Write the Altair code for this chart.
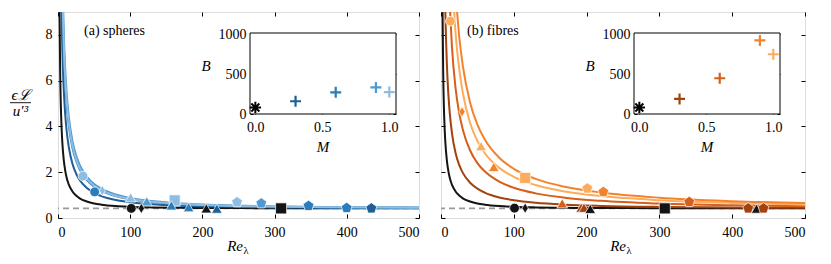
import altair as alt
import pandas as pd

FONT = "'Liberation Serif', 'Times New Roman', serif"
GROUPS = ["0", "0.3", "0.6", "0.9", "1.0"]
PAL_S = ["#141414", "#1f5f96", "#2a7cba", "#4f9bd1", "#8fbde1"]
PAL_F = ["#141414", "#a2420f", "#d65f19", "#f4822a", "#fdac5c"]
SHAPE_KEYS = ["A", "B", "C", "D", "E"]
SHAPES = ["circle", "M0,-1L0.62,0L0,1L-0.62,0Z", "triangle-up", "square",
          "M0,-1L0.951,-0.309L0.588,0.809L-0.588,0.809L-0.951,-0.309Z"]
SHAPE_SIZES = [95, 130, 95, 85, 110]

C_INF = 0.42

# ---- curves (Re_lambda, eps L / u'^3) ----
K0_RE = [2, 3, 4, 5, 6, 8, 10, 12, 15, 20, 25, 30, 40, 50, 60, 80, 100, 130, 170, 220, 300, 400, 500]
K0_C = [9.45, 6.37, 4.83, 3.91, 3.30, 2.53, 2.07, 1.76, 1.46, 1.16, 0.98, 0.86, 0.72, 0.635, 0.583,
        0.522, 0.49, 0.464, 0.446, 0.436, 0.429, 0.425, 0.423]

S03_RE = [4, 5, 6, 8, 10, 12, 15, 20, 25, 30, 40, 50, 60, 80, 100, 130, 170, 220, 300, 400, 500]
S03_C = [10.97, 8.82, 7.39, 5.59, 4.52, 3.80, 3.09, 2.37, 1.945, 1.66, 1.307, 1.096, 0.958, 0.788,
         0.689, 0.602, 0.539, 0.497, 0.464, 0.446, 0.437]
S06_RE = [6, 8, 10, 12, 15, 20, 25, 30, 40, 50, 60, 80, 100, 130, 170, 220, 300, 400, 500]
S06_C = [9.73, 7.35, 5.93, 4.97, 4.02, 3.07, 2.51, 2.13, 1.65, 1.37, 1.185, 0.954, 0.819, 0.697,
         0.606, 0.544, 0.4935, 0.464, 0.449]
S09_RE = [6, 8, 10, 12, 15, 20, 25, 30, 40, 50, 60, 80, 100, 130, 170, 220, 300, 400, 500]
S09_C = [10.71, 8.09, 6.51, 5.46, 4.42, 3.37, 2.74, 2.32, 1.80, 1.487, 1.28, 1.025, 0.874, 0.738,
         0.636, 0.565, 0.507, 0.4725, 0.455]
S10_RE = [6, 8, 10, 12, 15, 20, 25, 30, 40, 50, 60, 80, 100, 130, 170, 220, 300, 400, 500]
S10_C = [10.01, 7.56, 6.09, 5.11, 4.13, 3.16, 2.57, 2.18, 1.695, 1.405, 1.21, 0.974, 0.834, 0.709,
         0.615, 0.55, 0.497, 0.466, 0.451]

F03_RE = [5, 6, 8, 10, 12, 15, 20, 25, 30, 40, 50, 60, 80, 100, 130, 170, 220, 300, 400, 500]
F03_C = [10.71, 8.96, 6.78, 5.46, 4.59, 3.72, 2.84, 2.32, 1.97, 1.54, 1.28, 1.11, 0.899, 0.776,
         0.665, 0.583, 0.528, 0.483, 0.458, 0.445]
F06_RE = [12, 15, 20, 25, 30, 40, 50, 60, 80, 100, 130, 170, 220, 300, 400, 500]
F06_C = [9.31, 7.49, 5.67, 4.58, 3.86, 2.95, 2.40, 2.04, 1.59, 1.32, 1.076, 0.886, 0.749, 0.63,
         0.554, 0.513]
F09_RE = [20, 25, 30, 40, 50, 60, 80, 100, 130, 170, 220, 300, 400, 500]
F09_C = [9.87, 7.94, 6.65, 5.04, 4.08, 3.44, 2.63, 2.15, 1.71, 1.365, 1.113, 0.887, 0.737, 0.65]
F10_RE = [15, 20, 25, 30, 40, 50, 60, 80, 100, 130, 170, 220, 300, 400, 500]
F10_C = [10.71, 8.09, 6.51, 5.46, 4.15, 3.37, 2.84, 2.19, 1.80, 1.44, 1.16, 0.956, 0.776, 0.656, 0.589]

# ---- simulation markers ----
SM_RE = [34.6, 50.8, 61.4, 100.6, 123, 161.6, 157, 181, 205.4, 220, 248, 281.6, 309, 347, 399.8,
         434, 101.5, 115.4]
SM_C = [1.83, 1.14, 1.2, 0.9, 0.73, 0.77, 0.55, 0.47, 0.42, 0.41, 0.69, 0.64, 0.42, 0.53, 0.44,
        0.42, 0.42, 0.42]
SM_G = ["1.0", "0.6", "1.0", "1.0", "0.9", "1.0", "0.6", "0.6", "0", "0.3", "1.0", "0.9", "0",
        "0.6", "0.6", "0.3", "0", "0"]
SM_S = ["A", "A", "B", "C", "C", "D", "C", "C", "C", "C", "E", "E", "D", "E", "E", "E", "A", "B"]

FM_RE = [12.9, 28.9, 55, 72.5, 115.6, 201, 223, 166.5, 192.6, 196.4, 205, 101, 115.6, 307.4, 341,
         422, 433.5, 443]
FM_C = [8.6, 4.64, 3.14, 2.23, 1.75, 1.29, 1.14, 0.64, 0.45, 0.45, 0.4, 0.43, 0.43, 0.42, 0.7,
        0.42, 0.41, 0.42]
FM_G = ["1.0", "0.9", "1.0", "0.9", "1.0", "1.0", "0.9", "0.6", "0.3", "0.3", "0", "0", "0", "0",
        "0.6", "0.3", "0", "0.3"]
FM_S = ["A", "B", "C", "C", "D", "E", "E", "C", "C", "C", "C", "A", "B", "D", "E", "E", "C", "E"]

# ---- inset: B against M ----
S_M = [0.3, 0.6, 0.9, 1.0]
S_B = [160, 272, 333, 275]
S_MG = ["0.3", "0.6", "0.9", "1.0"]
F_M = [0.3, 0.6, 0.9, 1.0]
F_B = [189, 448, 922, 749]
F_MG = ["0.3", "0.6", "0.9", "1.0"]
STAR_M = [0.0]
STAR_B = [82]

INSET_XDOM = [-0.04, 1.05]
INSET_YDOM = [0, 1015]

H = 206


def curves_frame(items):
    rows = []
    for name, g, res, cs in items:
        for r, c in zip(res, cs):
            rows.append({"curve": name, "g": g, "Re": r, "C": c})
    return pd.DataFrame(rows)


def txt(t, x, y, size=14, style="normal", align="left", baseline="middle"):
    return alt.Chart(pd.DataFrame({"t": [t]})).mark_text(
        font=FONT, fontSize=size, fontStyle=style, align=align, baseline=baseline,
        color="black", clip=False).encode(text="t:N", x=alt.value(x), y=alt.value(y))


def panel(items, mre, mc, mg, ms, im, ib, img, pal, label, width, irange, first):
    xs = alt.Scale(domain=[0, 500], nice=False, zero=False)
    ys = alt.Scale(domain=[0, 9], nice=False, zero=False)
    col = alt.Color("g:N", scale=alt.Scale(domain=GROUPS, range=pal), legend=None)
    ax_common = dict(grid=False, domain=False, tickColor="black", tickWidth=1,
                     labelColor="black", labelFont=FONT, labelFontSize=14, title=None)
    bottom = alt.Axis(orient="bottom", values=[0, 100, 200, 300, 400, 500], format="d",
                      offset=-4, tickSize=4, labelPadding=7, **ax_common)
    top = alt.Axis(orient="top", values=[0, 100, 200, 300, 400, 500], offset=-4, tickSize=4,
                   labels=False, **ax_common)
    left = alt.Axis(orient="left", values=[0, 2, 4, 6, 8], format="d", offset=-4, tickSize=4,
                    labelPadding=6, labels=first, **ax_common)
    right = alt.Axis(orient="right", values=[0, 2, 4, 6, 8], offset=-4, tickSize=4,
                     labels=False, **ax_common)

    cdf = curves_frame(items)
    mdf = pd.DataFrame({"Re": mre, "C": mc, "g": mg, "s": ms})

    dashed = alt.Chart(pd.DataFrame({"c": [C_INF]})).mark_rule(
        color="#9a9a9a", strokeWidth=1.8, strokeDash=[6, 4]).encode(
        y=alt.Y("c:Q", scale=ys, axis=None))
    curves = alt.Chart(cdf).mark_line(strokeWidth=2, interpolate="monotone", clip=True).encode(
        x=alt.X("Re:Q", scale=xs, axis=bottom),
        y=alt.Y("C:Q", scale=ys, axis=left),
        color=col, detail="curve:N")
    marks = alt.Chart(mdf).mark_point(filled=True, stroke="white", strokeWidth=0.7,
                                      opacity=1).encode(
        x=alt.X("Re:Q", scale=xs, axis=None),
        y=alt.Y("C:Q", scale=ys, axis=None),
        color=col,
        shape=alt.Shape("s:N", scale=alt.Scale(domain=SHAPE_KEYS, range=SHAPES), legend=None),
        size=alt.Size("s:N", scale=alt.Scale(domain=SHAPE_KEYS, range=SHAPE_SIZES), legend=None))
    dummy = alt.Chart(mdf).mark_point(opacity=0).encode(
        x=alt.X("Re:Q", scale=xs, axis=top),
        y=alt.Y("C:Q", scale=ys, axis=right))

    texts = [txt(label, 26, 19, 14)]
    if first:
        texts += [
            txt("ϵℒ", -37.5, 83, 15, "italic", "center"),
            alt.Chart(pd.DataFrame({"a": [0]})).mark_rule(color="black", strokeWidth=0.9).encode(
                x=alt.value(-48), x2=alt.value(-27), y=alt.value(90.7)),
            txt("u′³", -37.5, 98.5, 15, "italic", "center"),
        ]
    texts += [txt("Re", 185, 239, 15, "italic", "right", "alphabetic"),
              txt("λ", 185.5, 242, 10.5, "normal", "left", "alphabetic")]
    ibx = irange[0]
    texts += [txt("B", ibx - 44, 54, 15, "italic", "center"),
              txt("M", ibx + 73, 135, 15, "italic", "center")]

    main = alt.layer(dashed, curves, marks, dummy, *texts)

    ix = alt.Scale(domain=INSET_XDOM, range=irange, nice=False, zero=False)
    iy = alt.Scale(domain=INSET_YDOM, range=[102, 21], nice=False, zero=False)
    icol = alt.Color("g:N", scale=alt.Scale(domain=GROUPS, range=pal), legend=None)
    ia = dict(grid=False, domain=False, tickColor="black", tickWidth=1, labelColor="black",
              labelFont=FONT, labelFontSize=14, title=None, tickSize=3)
    ibot = alt.Axis(orient="bottom", values=[0, 0.5, 1.0], format=".1f", offset=-(H - 102) - 3,
                    labelPadding=6, **ia)
    itop = alt.Axis(orient="top", values=[0, 0.5, 1.0], offset=-24, labels=False, **ia)
    ileft = alt.Axis(orient="left", values=[0, 500, 1000], format="d", offset=-(irange[0] + 3),
                     labelPadding=4, **ia)
    iright = alt.Axis(orient="right", values=[0, 500, 1000], offset=(irange[1] - 3) - width,
                      labels=False, **ia)

    frame = alt.Chart(pd.DataFrame({"x": [INSET_XDOM[0]], "x2": [INSET_XDOM[1]],
                                    "y": [INSET_YDOM[0]], "y2": [INSET_YDOM[1]]})).mark_rect(
        fill="white", stroke="black", strokeWidth=1).encode(
        x=alt.X("x:Q", scale=ix, axis=ibot), x2="x2:Q",
        y=alt.Y("y:Q", scale=iy, axis=ileft), y2="y2:Q")
    idf = pd.DataFrame({"M": im, "B": ib, "g": img})
    plus = alt.Chart(idf).mark_point(shape="M-1,0L1,0M0,-1L0,1", filled=False, size=120,
                                     strokeWidth=2.2, opacity=1).encode(
        x=alt.X("M:Q", scale=ix, axis=itop),
        y=alt.Y("B:Q", scale=iy, axis=iright),
        color=icol)
    star = alt.Chart(pd.DataFrame({"M": STAR_M, "B": STAR_B})).mark_point(
        shape="M-1,0L1,0M0,-1L0,1M-0.7,-0.7L0.7,0.7M-0.7,0.7L0.7,-0.7", filled=False, size=130,
        strokeWidth=2, color="black", opacity=1).encode(
        x=alt.X("M:Q", scale=ix, axis=None), y=alt.Y("B:Q", scale=iy, axis=None))
    inset = alt.layer(frame, plus, star)

    return alt.layer(main, inset).resolve_scale(
        x="independent", y="independent", color="independent").properties(width=width, height=H)


left_items = [("k0", "0", K0_RE, K0_C), ("s03", "0.3", S03_RE, S03_C),
              ("s06", "0.6", S06_RE, S06_C), ("s09", "0.9", S09_RE, S09_C),
              ("s10", "1.0", S10_RE, S10_C)]
right_items = [("k0", "0", K0_RE, K0_C), ("f03", "0.3", F03_RE, F03_C),
               ("f06", "0.6", F06_RE, F06_C), ("f10", "1.0", F10_RE, F10_C),
               ("f09", "0.9", F09_RE, F09_C)]

lp = panel(left_items, SM_RE, SM_C, SM_G, SM_S, S_M, S_B, S_MG, PAL_S, "(a) spheres", 361,
           [192, 338], True)
rp = panel(right_items, FM_RE, FM_C, FM_G, FM_S, F_M, F_B, F_MG, PAL_F, "(b) fibres", 364,
           [193, 339], False)

chart = alt.hconcat(lp, rp, spacing=22, bounds="flush").resolve_scale(
    color="independent", shape="independent", size="independent").properties(
    padding={"left": 1, "top": 3, "right": 5, "bottom": 5}
).configure_view(stroke="black", strokeWidth=1.1).configure(background="white")

chart.save("out.html", embed_options={"renderer": "svg", "actions": False})
